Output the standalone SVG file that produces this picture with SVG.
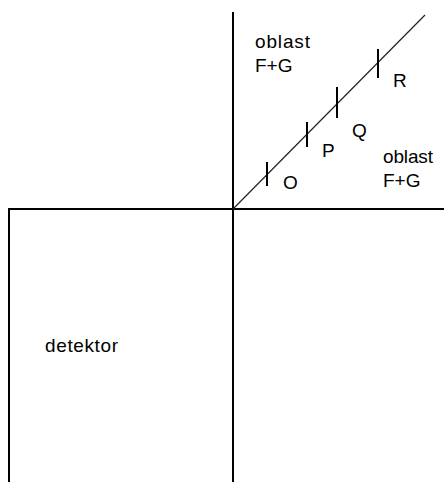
<svg xmlns="http://www.w3.org/2000/svg" width="444" height="482" viewBox="0 0 444 482">
<style>
.ln{stroke:#000;stroke-width:2;fill:none}
.dg{stroke:#222;stroke-width:1.2;fill:none}
.tk{stroke:#000;stroke-width:2}
text{font-family:"Liberation Sans",Arial,sans-serif;font-size:19px;fill:#000}
</style>
<rect width="444" height="482" fill="#fff"/>
<g id="axes">
<line class="ln" x1="233" y1="12" x2="233" y2="482"/>
<line class="ln" x1="9" y1="209" x2="444" y2="209"/>
</g>
<g id="detektor">
<line class="ln" x1="9" y1="208" x2="9" y2="482"/>
<text x="45" y="352" textLength="73">detektor</text>
</g>
<g id="diagonal">
<line class="dg" x1="233" y1="209" x2="425" y2="15"/>
<line class="tk" x1="267" y1="162" x2="267" y2="186"/>
<line class="tk" x1="307" y1="122" x2="307" y2="147"/>
<line class="tk" x1="337" y1="87" x2="337" y2="118"/>
<line class="tk" x1="378" y1="49" x2="378" y2="78"/>
<text x="283" y="189">O</text>
<text x="322" y="157">P</text>
<text x="352" y="137">Q</text>
<text x="393" y="87">R</text>
</g>
<g id="region-upper">
<text x="255" y="48" textLength="55">oblast</text>
<text x="255" y="72">F+G</text>
</g>
<g id="region-lower">
<text x="383" y="163" textLength="50">oblast</text>
<text x="383" y="187">F+G</text>
</g>
</svg>
